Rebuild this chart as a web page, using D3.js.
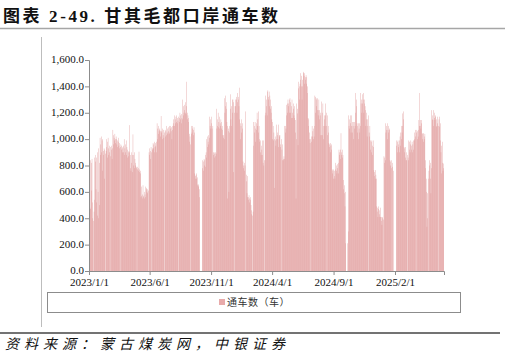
<!DOCTYPE html>
<html><head><meta charset="utf-8">
<script src="https://cdn.jsdelivr.net/npm/d3@7"></script>
<style>
html,body{margin:0;padding:0;background:#fff;}
svg{display:block;}
</style></head>
<body>
<svg id="c" width="505" height="357"></svg>
<script>
// ---- data ----
const titleText = "图表 2-49. 甘其毛都口岸通车数";
const sourceText = "资料来源：蒙古煤炭网，中银证券";
const seriesName = "通车数（车）";
const yTicks = [0, 200, 400, 600, 800, 1000, 1200, 1400, 1600];
const xTickLabels = ["2023/1/1", "2023/6/1", "2023/11/1", "2024/4/1", "2024/9/1", "2025/2/1"];
// daily values, each array starts on Jan 1 of its year
const values2023 = [
590,850,480,840,470,820,610,850,400,520,380,0,450,860,540,830,880,620,860,520,900,420,600,930,400,820,500,1010,880,960,1020,
900,990,760,1000,910,880,930,700,920,890,0,910,1000,940,980,860,1010,930,880,950,900,0,940,870,920,950,850,930,
1070,960,1030,1010,990,1040,970,1000,1020,1000,960,990,940,980,1010,950,930,970,0,940,960,920,950,930,900,940,900,950,1000,880,930,
960,900,990,880,940,860,920,900,870,910,1106,900,780,880,760,900,820,750,880,1036,880,800,900,780,850,820,800,790,780,0,
770,790,760,780,905,770,750,760,740,560,640,570,580,550,650,570,560,600,550,580,640,560,620,630,600,620,590,610,0,900,880,
930,910,850,940,900,0,920,930,970,930,960,900,980,940,970,950,900,980,1120,1000,1080,1040,1100,1060,1080,1070,1020,1060,1175,1050,
1060,1000,1080,1030,1070,1010,0,1050,1070,1020,1060,1030,1100,1050,1080,1040,1090,1060,1040,1100,1050,1080,1100,1060,1090,1000,1100,1070,1120,1150,1100,
1180,1100,1150,1120,1170,1130,1180,1120,1160,1140,1170,0,1160,1130,1200,1150,1180,1120,1190,1160,1150,1300,1180,1250,1200,1260,1220,1200,1280,1190,1250,
1435,1200,1150,1180,1130,1160,1040,980,1020,0,960,1040,1100,1050,1080,1100,1030,1070,1090,1050,740,720,700,730,700,740,710,650,660,640,
650,620,560,0,0,0,0,0,0,840,780,830,760,850,800,840,880,790,900,860,1000,940,1020,980,1030,960,1010,1170,1100,1150,1080,
1170,1120,1080,0,1100,900,880,900,860,890,900,870,890,1230,1080,1150,1100,1200,1090,1130,1080,1170,1120,1100,1150,1080,1130,1100,1070,1030,
1010,1030,1000,1310,1200,1330,1250,1280,1230,1130,550,1100,1060,1080,600,1050,1100,1230,1340,1150,1250,1100,1200,1300,1300,750,1280,1200,0,1250,1300
];
const values2024 = [
1250,1300,1320,1200,1350,1280,1300,1320,1250,1390,1150,1000,1120,1100,1150,1050,1080,1120,830,800,780,820,760,800,0,1210,730,680,590,720,560,
560,540,575,520,550,560,540,500,430,460,420,0,450,1130,950,1100,1050,1130,980,1080,1120,1070,1200,1100,1150,1210,1050,1100,1000,
980,900,990,880,950,920,990,880,820,990,800,840,0,1180,1330,1200,1250,1300,1180,1360,1370,1320,1300,1360,1250,1330,1230,1300,1200,1250,1150,
1130,1000,1100,990,1050,630,1000,1020,990,950,1000,1110,1030,1050,1000,1110,940,1030,1020,1030,960,940,1000,0,920,840,960,850,840,870,
850,1100,1050,1100,1080,1260,1180,1270,1200,1300,1250,1270,1200,1300,1310,1200,1280,1160,1250,1300,1200,1160,1270,1230,1180,1250,1160,1050,1145,550,1000,
1270,1195,1230,955,1435,1385,1400,1300,1420,1450,1500,1400,1480,1300,1450,1400,1500,1510,1480,1420,1500,1450,1470,1485,1420,1470,1350,1400,1160,1100,
1150,1000,1050,970,1000,0,1020,980,1100,1020,1060,1000,1080,1020,1100,1330,1200,1320,1310,1250,1300,1220,1310,1180,1220,1300,1150,1220,1180,1200,1030,
1285,1030,1200,1030,1270,1100,1000,1150,1180,1100,1270,1180,1100,1200,0,1030,1180,1100,1050,970,940,960,900,970,950,920,960,770,740,760,700,
770,720,760,700,770,820,760,800,740,810,780,740,820,920,880,900,850,920,1045,880,900,860,920,880,690,620,590,650,490,600,
210,0,0,0,210,0,300,1180,1100,1150,1080,1180,1120,1050,1180,1100,1130,1050,1100,1130,1000,1080,1130,1100,1350,1200,1300,1250,1120,1050,1100,
1120,1000,1080,1120,1050,1100,1350,1270,1300,1200,1340,1270,1300,1350,1200,1270,1300,1250,1220,1100,1150,1200,1020,1150,1100,0,1180,1050,1020,1100,
990,920,980,900,990,950,880,990,940,765,720,750,700,765,730,700,490,450,480,410,470,490,430,460,410,480,410,380,410,350,400
];
const values2025 = [
410,0,390,870,820,860,840,1120,1050,1100,1070,1120,1000,1070,1100,1050,1080,1070,840,800,830,780,840,0,820,790,760,0,0,0,0,
0,0,0,990,950,980,900,990,940,960,990,900,1020,950,1050,1000,1100,1050,1195,1100,1150,1210,940,900,930,860,940,840,
900,840,880,0,860,840,990,920,980,900,960,990,920,950,980,900,960,920,990,990,1050,1000,1070,1020,0,1050,1070,1000,1060,1020,1070,
1145,1100,1350,1100,1145,1080,1120,1145,1045,1000,1040,980,1045,1000,1020,1040,840,780,700,600,335,400,590,700,0,760,840,800,700,820,
590,780,1220,1150,1180,1145,1220,1100,1160,1200,1145,1180,1170,1095,1150,1100,1170,1120,0,1100,1150,1095,1170,1120,990,900,740,950,820,980,760,
815,780
];

// ---- build rows ----
function rowsFor(year, arr){ return arr.map((v,i)=>({date:new Date(year,0,1+i), value:v})); }
const data = [].concat(rowsFor(2023, values2023), rowsFor(2024, values2024), rowsFor(2025, values2025));

const svg = d3.select("#c");
const W = 505, H = 357;
const plot = {left: 89, right: 444, top: 60, bottom: 271};
const start = new Date(2023,0,1);
const end = d3.timeDay.offset(data[data.length-1].date, 1);

const x = d3.scaleTime().domain([start, end]).range([plot.left, plot.right]);
const y = d3.scaleLinear().domain([0,1600]).range([plot.bottom, plot.top]);
const dayW = x(d3.timeDay.offset(start,1)) - x(start);
const barColor = "#d98484";
const legendColor = "#e8aaaa";

const serif = "'Liberation Serif','Times New Roman',serif";
const cjk = "'Liberation Serif','Noto Sans CJK SC',serif";

// title
svg.append("text").attr("x",3).attr("y",22)
  .attr("font-family", cjk).attr("font-weight","bold").attr("font-size",17)
  .attr("letter-spacing","2.6px").attr("fill","#111").text(titleText);
svg.append("line").attr("x1",0).attr("x2",W).attr("y1",28.5).attr("y2",28.5)
  .attr("stroke","#a6a6a6").attr("stroke-width",1.6);

// outer left frame line
svg.append("line").attr("x1",41.5).attr("x2",41.5).attr("y1",37).attr("y2",327)
  .attr("stroke","#bdbdbd").attr("stroke-width",1);

// bars
svg.append("g").selectAll("rect").data(data).join("rect")
  .attr("x", d=>x(d.date) + dayW*0.1)
  .attr("width", dayW*0.8)
  .attr("y", d=>y(d.value))
  .attr("height", d=>y(0)-y(d.value))
  .attr("fill", barColor);

// y axis
const yAxis = d3.axisLeft(y).tickValues(yTicks).tickSize(4).tickFormat(d3.format(",.1f"));
const gy = svg.append("g").attr("transform",`translate(${plot.left},0)`).call(yAxis);
gy.select(".domain").attr("stroke","#8c8c8c");
gy.selectAll(".tick line").attr("stroke","#8c8c8c");
gy.selectAll(".tick text").attr("font-family",serif).attr("font-size",11).attr("fill","#111").attr("x",-5)
  .attr("dy","0.25em");

// x axis
const xTickDates = xTickLabels.map(s=>{const p=s.split("/").map(Number); return new Date(p[0],p[1]-1,p[2]);});
const xAxis = d3.axisBottom(x).tickValues(xTickDates).tickSize(4)
  .tickFormat((d,i)=>xTickLabels[i]);
const gx = svg.append("g").attr("transform",`translate(0,${plot.bottom})`).call(xAxis);
gx.select(".domain").attr("stroke","#8c8c8c");
gx.selectAll(".tick line").attr("stroke","#8c8c8c");
gx.selectAll(".tick text").attr("font-family",serif).attr("font-size",11).attr("fill","#111")
  .attr("y",15).attr("dy",0);

// legend
svg.append("rect").attr("x",47.5).attr("y",292.5).attr("width",413).attr("height",20)
  .attr("fill","none").attr("stroke","#8c8c8c").attr("stroke-width",1);
svg.append("rect").attr("x",219).attr("y",299).attr("width",6).attr("height",6).attr("fill",legendColor);
svg.append("text").attr("x",227).attr("y",306).attr("font-family","'Noto Sans CJK SC',sans-serif")
  .attr("font-size",10).attr("letter-spacing","0.5px").attr("fill","#333").text(seriesName);

// bottom rule and source
svg.append("line").attr("x1",0).attr("x2",500).attr("y1",333).attr("y2",333)
  .attr("stroke","#444").attr("stroke-width",1.5);
svg.append("text").attr("x",5).attr("y",349).attr("font-family","'Noto Sans CJK SC',sans-serif")
  .attr("font-style","italic").attr("font-size",14).attr("letter-spacing","5px")
  .attr("fill","#111").text(sourceText);
</script>
</body></html>
